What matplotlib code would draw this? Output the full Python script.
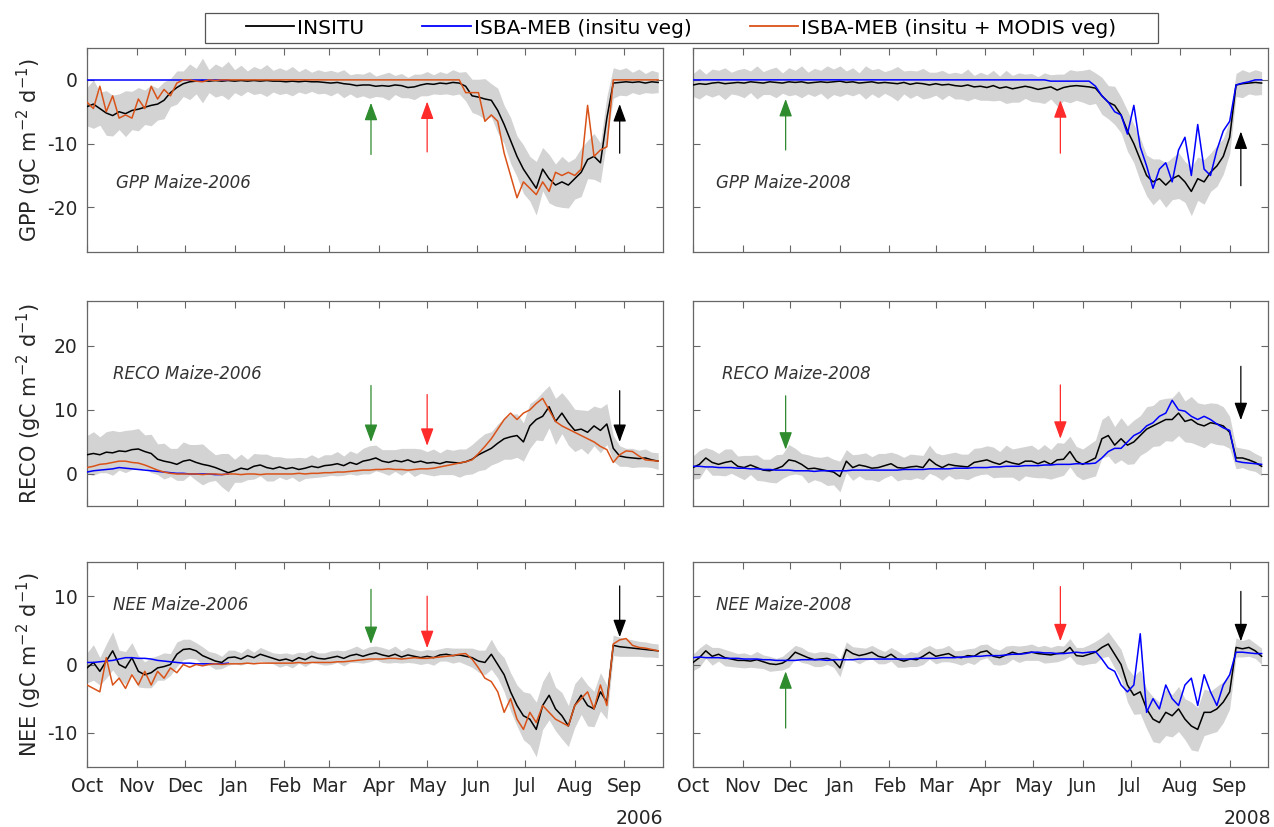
import numpy as np
import matplotlib.pyplot as plt
import matplotlib.dates as mdates
from matplotlib.lines import Line2D
from matplotlib.patches import Rectangle

plt.rcParams['font.family'] = ['DejaVu Sans']
plt.rcParams['axes.unicode_minus'] = False

# one value every 4 days, starting 1 October
days = np.arange(0, 360, 4)
dates06 = np.datetime64('2005-10-01') + days
dates08 = np.datetime64('2007-10-01') + days

# ---------------- 2005-2006 ----------------
#               Oct                                          Nov
gpp06_insitu = [-4.2, -3.8, -4.5, -5.2, -5.6, -5.0, -5.3, -4.8, -4.6, -4.3, -4.0, -3.8, -3.2, -2.0, -1.2, -0.6,
                -0.3, -0.2, -0.1, -0.2, -0.1, -0.2, -0.1,                       # Dec
                -0.2, -0.1, -0.2, -0.1, -0.2, -0.1, -0.2, -0.2,                 # Jan
                -0.3, -0.2, -0.3, -0.2, -0.3, -0.3, -0.4,                       # Feb
                -0.5, -0.4, -0.6, -0.7, -0.9, -0.8, -0.8, -1.0,                 # Mar
                -0.9, -1.0, -0.8, -0.9, -1.2, -1.1, -0.8,                       # Apr
                -0.6, -0.7, -0.5, -0.6, -0.4, -0.5, -1.0, -2.5,                 # May
                -2.7, -3.0, -3.2, -4.8, -7.0, -9.5, -12.0, -14.0,               # Jun
                -15.5, -17.0, -14.0, -15.5, -16.5, -16.0, -16.5,                # Jul
                -15.5, -14.5, -12.5, -12.0, -13.0, -6.0, -0.5, -0.4,            # Aug
                -0.3, -0.4, -0.3, -0.5, -0.3, -0.4]                             # Sep
gpp06_modis = [-3.5, -4.5, -1.0, -5.0, -2.5, -6.0, -5.5, -6.0, -3.0, -4.5, -1.0, -3.0, -1.5, -2.5, -0.5, 0.0,
               0.0, -0.2, -0.3, 0.0, -0.1, 0.0, 0.0,
               0.0, 0.0, 0.0, 0.0, 0.0, 0.0, 0.0, 0.0,
               0.0, 0.0, 0.0, 0.0, 0.0, 0.0, 0.0,
               0.0, 0.0, 0.0, 0.0, 0.0, 0.0, 0.0, 0.0,
               0.0, 0.0, 0.0, 0.0, 0.0, 0.0, 0.0,
               0.0, 0.0, 0.0, 0.0, 0.0, 0.0, -2.0, -2.0,
               -2.0, -6.5, -5.5, -6.5, -11.5, -15.0, -18.5, -16.0,
               -17.0, -18.0, -16.0, -17.5, -14.5, -15.0, -14.5,
               -15.0, -14.0, -4.0, -12.0, -11.0, -10.5, 0.0, 0.0,
               0.0, 0.0, 0.0, 0.0, 0.0, 0.0]
gpp06_veg = [0.0] * 23     # Oct-Dec only, later hidden under the MODIS run
gpp06_spread = [3.0, 3.8, 2.6, 3.5, 3.2, 2.8, 3.6, 3.0, 3.4, 2.7, 3.2, 2.5, 2.9, 2.2, 2.6, 2.0,
                2.8, 2.0, 3.5, 1.8, 2.6, 2.2, 3.0,
                1.8, 2.4, 1.6, 2.2, 1.9, 2.5, 1.7, 2.1,
                1.8, 2.3, 1.6, 2.0, 1.5, 1.9, 1.7,
                2.0, 1.6, 2.2, 1.5, 1.9, 1.7, 2.1, 1.6,
                1.8, 2.2, 1.5, 1.9, 1.6, 2.0, 1.7,
                1.9, 1.5, 1.8, 1.6, 2.0, 1.7, 2.3, 2.6,
                2.8, 3.2, 2.6, 3.5, 3.0, 3.6, 3.2, 3.8,
                3.5, 4.2, 3.4, 3.8, 3.3, 4.0, 3.6,
                3.2, 3.8, 3.0, 3.6, 3.1, 3.4, 2.4, 2.0,
                2.2, 1.6, 2.0, 1.5, 1.8, 1.6]

reco06_insitu = [3.0, 3.2, 3.0, 3.4, 3.3, 3.6, 3.5, 3.8, 3.9, 3.5, 3.2, 2.3, 2.0, 1.8, 1.5, 2.0,
                 2.2, 1.8, 1.5, 1.3, 1.0, 0.6, 0.2,
                 0.5, 0.9, 0.7, 1.2, 1.4, 1.0, 0.8, 1.1,
                 0.8, 1.0, 0.7, 0.9, 1.2, 1.0, 1.3,
                 1.4, 1.6, 1.3, 1.8, 1.5, 2.0, 2.2, 2.5,
                 2.0, 1.8, 2.1, 1.9, 2.2, 1.8, 2.0,
                 1.7, 1.8, 1.6, 1.9, 1.8, 1.7, 1.9, 2.3,
                 3.0, 3.5, 4.0, 4.8, 5.5, 5.8, 6.0, 5.0,
                 7.5, 8.5, 9.0, 10.5, 8.2, 9.5, 8.0,
                 6.8, 7.0, 6.5, 7.5, 6.8, 7.8, 4.0, 2.8,
                 2.6, 2.5, 2.4, 2.5, 2.2, 2.0]
reco06_modis = [1.0, 1.2, 1.5, 1.6, 1.8, 2.0, 2.0, 1.8, 1.7, 1.4, 1.0, 0.6, 0.3, 0.1, 0.0, 0.0,
                0.0, 0.0, -0.1, 0.0, 0.0, -0.1, 0.0,
                0.0, -0.1, 0.0, 0.0, -0.1, 0.0, 0.0, 0.0,
                0.0, 0.0, 0.1, 0.0, 0.1, 0.1, 0.2,
                0.2, 0.3, 0.3, 0.4, 0.5, 0.6, 0.6, 0.7,
                0.7, 0.8, 0.7, 0.7, 0.6, 0.7, 0.8,
                0.8, 0.9, 1.1, 1.3, 1.5, 1.7, 1.9, 2.2,
                3.2, 4.3, 5.5, 7.0, 8.5, 9.5, 8.5, 9.5,
                10.0, 11.0, 11.8, 10.0, 8.2, 7.5, 7.0,
                6.5, 6.0, 5.5, 5.0, 4.3, 3.8, 1.8, 3.0,
                3.6, 3.5, 2.8, 2.2, 2.1, 2.0]
reco06_veg = [0.3, 0.5, 0.6, 0.7, 0.8, 1.0, 0.9, 0.8, 0.7, 0.6, 0.5, 0.4, 0.3, 0.2, 0.1, 0.1,
              0.0, 0.0, 0.0, 0.0, -0.1, -0.1, 0.0]
reco06_spread = [3.0, 3.4, 2.8, 3.2, 3.5, 3.0, 3.3, 3.1, 3.2, 2.6, 3.0, 2.4, 2.8, 2.2, 2.5, 3.0,
                 2.4, 2.8, 3.2, 2.5, 2.0, 2.6, 3.0,
                 1.8, 2.2, 1.6, 2.0, 1.7, 2.1, 1.9, 1.6,
                 1.7, 1.5, 1.9, 1.6, 1.8, 1.5, 1.7,
                 1.6, 1.9, 1.5, 1.8, 1.7, 2.0, 2.2, 2.0,
                 1.8, 2.0, 1.7, 2.1, 1.8, 2.2, 1.9,
                 1.8, 2.1, 1.7, 2.0, 1.9, 2.2, 2.0, 2.3,
                 2.5, 2.8, 2.6, 3.0, 3.2, 3.5, 3.4, 3.0,
                 3.5, 3.2, 3.8, 3.3, 3.6, 3.2, 3.5,
                 3.3, 3.0, 3.4, 3.1, 3.5, 3.2, 2.0, 1.6,
                 1.4, 1.5, 1.3, 1.4, 1.2, 1.3]

nee06_insitu = [-0.5, 0.3, -1.0, 0.5, 2.0, 0.0, -0.5, 1.0, -1.0, -1.5, -1.2, -0.5, -0.3, 0.0, 1.5, 2.2,
                2.3, 2.0, 1.3, 0.9, 0.5, 0.3, 1.0,
                1.1, 0.8, 1.3, 1.0, 1.5, 1.2, 0.9, 0.6,
                0.8, 0.5, 1.0, 0.7, 1.2, 0.9, 0.8,
                1.0, 1.2, 0.9, 1.3, 1.5, 1.2, 1.5, 1.7,
                1.4, 1.2, 1.5, 1.1, 1.4, 1.2, 1.0,
                1.2, 1.0, 1.4, 1.5, 1.3, 1.4, 1.2, 1.0,
                0.5, 0.3, 1.5, 0.0, -1.5, -4.0, -6.0, -7.5,
                -8.0, -9.5, -6.0, -4.5, -6.5, -7.5, -9.0,
                -6.0, -4.5, -6.0, -6.5, -4.0, -5.5, 2.8, 2.6,
                2.5, 2.4, 2.3, 2.2, 2.1, 2.0]
nee06_modis = [-3.0, -3.5, -4.0, 1.0, -3.0, -2.0, -3.5, -1.5, -3.0, -1.0, -3.0, -1.0, -2.0, -0.5, -1.2, 0.0,
               -0.4, 0.0, -0.2, 0.0, 0.1, 0.0, 0.1,
               0.1, 0.1, 0.2, 0.1, 0.2, 0.2, 0.2, 0.2,
               0.2, 0.2, 0.3, 0.2, 0.3, 0.3, 0.3,
               0.3, 0.4, 0.4, 0.5, 0.6, 0.7, 0.8, 0.8,
               0.8, 0.9, 0.9, 0.8, 0.9, 1.0, 0.9,
               0.9, 1.0, 1.1, 1.2, 1.3, 1.5, 1.6, 0.8,
               -0.5, -2.0, -2.5, -4.0, -7.0, -5.0, -8.0, -9.5,
               -7.0, -8.5, -6.0, -7.0, -8.0, -8.5, -9.0,
               -6.0, -5.0, -4.0, -6.5, -3.0, -6.0, 3.0, 3.6,
               3.8, 2.8, 2.5, 2.4, 2.2, 2.0]
nee06_veg = [0.3, 0.3, 0.4, 0.5, 0.6, 0.8, 1.0, 1.0, 0.9, 0.9, 0.8, 0.6, 0.5, 0.4, 0.3, 0.2,
             0.2, 0.1, 0.1, 0.1, 0.1, 0.1, 0.2]
nee06_spread = [2.2, 2.6, 2.0, 2.5, 2.8, 2.1, 2.4, 2.2, 2.3, 1.9, 2.2, 1.8, 2.0, 1.6, 1.8, 1.5,
                1.4, 1.2, 1.3, 1.0, 1.2, 0.9, 1.1,
                1.0, 0.9, 1.1, 0.8, 1.0, 0.9, 0.8, 1.0,
                0.9, 1.0, 0.8, 1.0, 0.9, 0.8, 0.9,
                1.0, 0.9, 1.1, 1.0, 1.2, 1.0, 1.1, 1.0,
                1.1, 1.0, 1.2, 0.9, 1.1, 1.0, 1.0,
                1.0, 1.1, 0.9, 1.0, 1.1, 1.0, 1.2, 1.4,
                1.6, 1.8, 2.2, 2.0, 2.5, 2.8, 3.0, 3.5,
                3.8, 4.0, 3.5, 3.6, 3.2, 3.4, 3.0,
                3.2, 2.8, 3.0, 2.6, 2.8, 2.5, 1.5, 1.4,
                1.3, 1.2, 1.1, 1.1, 1.0, 1.0]

# ---------------- 2007-2008 ----------------
gpp08_insitu = [-0.8, -0.6, -0.7, -0.5, -0.4, -0.6, -0.5, -0.4, -0.5, -0.3, -0.4, -0.5, -0.3, -0.4, -0.5, -0.3,
                -0.4, -0.3, -0.5, -0.4, -0.3, -0.4, -0.3,
                -0.2, -0.4, -0.3, -0.5, -0.4, -0.3, -0.5, -0.4,
                -0.5, -0.6, -0.4, -0.7, -0.5, -0.6, -0.8,
                -0.6, -0.8, -0.7, -0.9, -1.0, -0.8, -1.1, -1.0,
                -1.2, -0.9, -1.3, -1.1, -1.4, -1.2, -1.0,
                -1.2, -1.5, -1.3, -1.1, -1.6, -1.2, -1.0, -0.9,
                -1.0, -1.1, -1.3, -2.5, -3.5, -4.0, -5.5, -8.0,
                -10.0, -12.5, -15.0, -16.0, -15.5, -16.5, -15.5,
                -15.0, -16.0, -17.5, -15.5, -16.0, -14.5, -13.5, -12.0,
                -9.0, -0.8, -0.6, -0.5, -0.4, -0.5]
gpp08_veg = [0.0, 0.0, 0.0, 0.0, 0.0, 0.0, 0.0, 0.0, 0.0, 0.0, 0.0, 0.0, 0.0, 0.0, 0.0, 0.0,
             0.0, 0.0, 0.0, 0.0, 0.0, 0.0, 0.0,
             0.0, 0.0, 0.0, 0.0, 0.0, 0.0, 0.0, 0.0,
             0.0, 0.0, 0.0, 0.0, 0.0, 0.0, 0.0,
             0.0, 0.0, 0.0, 0.0, 0.0, 0.0, 0.0, 0.0,
             0.0, 0.0, 0.0, 0.0, 0.0, 0.0, 0.0,
             0.0, 0.0, 0.0, -0.2, -0.2, -0.2, -0.2, -0.2,
             -0.2, -0.2, -1.0, -2.5, -3.5, -5.0, -5.5, -8.5,
             -4.0, -10.5, -13.5, -17.0, -14.0, -13.0, -16.0,
             -11.0, -9.0, -15.0, -7.0, -14.0, -15.0, -11.0, -8.0,
             -6.5, -0.8, -0.5, -0.3, 0.0, 0.0]
gpp08_spread = [1.8, 2.4, 1.6, 2.2, 1.9, 2.5, 1.7, 2.0, 2.3, 1.7, 2.6, 1.8, 2.0, 2.4, 1.6, 2.2,
                1.9, 2.5, 1.7, 2.2, 1.8, 2.6, 2.0,
                2.4, 1.8, 2.2, 1.6, 2.6, 1.9, 2.3, 1.7,
                2.1, 2.7, 1.8, 2.2, 1.9, 2.4, 2.0,
                1.8, 2.3, 1.7, 2.1, 2.0, 2.5, 1.8, 2.2,
                2.0, 2.4, 1.9, 2.6, 2.1, 2.3, 1.9,
                2.2, 2.0, 2.4, 1.9, 2.5, 2.1, 2.6, 2.3,
                2.5, 2.8, 2.4, 2.9, 2.6, 3.0, 2.8, 3.2,
                3.0, 3.4, 3.2, 3.6, 3.1, 3.5, 3.3,
                3.6, 3.2, 3.8, 3.4, 3.5, 3.0, 3.2, 2.8,
                2.6, 1.8, 2.2, 1.7, 2.0, 1.8]

reco08_insitu = [1.0, 1.5, 2.5, 1.8, 1.5, 1.8, 2.0, 1.2, 1.0, 1.4, 1.0, 0.6, 0.5, 0.8, 1.2, 2.2,
                 2.0, 1.5, 0.8, 0.9, 0.7, 0.5, 0.3,
                 -0.4, 2.0, 1.0, 1.4, 1.2, 0.9, 1.0, 1.3,
                 1.6, 1.0, 0.9, 1.1, 1.2, 1.0, 2.3,
                 1.5, 1.0, 1.5, 1.3, 1.2, 1.1, 1.8, 2.0,
                 2.2, 1.8, 1.5, 2.0, 1.7, 1.5, 2.0,
                 2.0, 1.6, 2.0, 1.5, 2.2, 2.3, 3.5, 2.0,
                 1.5, 2.0, 2.5, 5.5, 6.0, 4.5, 5.5, 4.5,
                 5.0, 6.0, 7.0, 7.5, 8.0, 8.5, 8.5,
                 9.5, 8.2, 8.5, 7.8, 7.5, 8.0, 7.8, 7.5,
                 6.5, 2.5, 2.5, 2.2, 1.8, 1.2]
reco08_veg = [1.2, 1.2, 1.1, 1.1, 1.0, 1.0, 1.0, 0.9, 0.9, 0.8, 0.8, 0.7, 0.7, 0.6, 0.6, 0.6,
              0.5, 0.5, 0.5, 0.4, 0.5, 0.5, 0.5,
              0.5, 0.5, 0.6, 0.6, 0.6, 0.6, 0.6, 0.6,
              0.6, 0.6, 0.7, 0.7, 0.7, 0.7, 0.8,
              0.8, 0.8, 0.8, 0.9, 0.9, 0.9, 1.0, 1.0,
              1.0, 1.1, 1.1, 1.2, 1.2, 1.2, 1.3,
              1.3, 1.3, 1.4, 1.4, 1.5, 1.5, 1.5, 1.6,
              1.6, 1.6, 1.7, 2.5, 3.5, 4.0, 4.0, 5.0,
              6.0, 6.5, 7.5, 8.0, 9.0, 9.5, 11.5,
              10.0, 9.8, 9.0, 8.5, 9.0, 8.5, 7.8, 7.2,
              6.8, 2.0, 1.8, 1.7, 1.6, 1.5]
reco08_spread = [1.8, 2.2, 1.6, 2.0, 1.7, 2.1, 1.9, 1.6, 1.9, 1.5, 2.0, 1.7, 1.8, 2.2, 1.9, 2.4,
                 2.0, 1.7, 2.2, 1.8, 1.9, 2.3, 2.0,
                 2.4, 1.8, 2.0, 1.7, 2.1, 1.8, 2.2, 1.9,
                 1.8, 2.1, 1.7, 2.0, 1.8, 1.9, 2.2,
                 1.8, 2.0, 1.7, 2.1, 1.9, 2.0, 2.2, 2.1,
                 2.2, 2.4, 2.0, 2.5, 2.2, 2.6, 2.3,
                 2.5, 2.2, 2.6, 2.3, 2.7, 2.5, 2.4, 2.3,
                 2.4, 2.6, 2.8, 3.0, 3.2, 2.9, 3.3, 3.0,
                 3.4, 3.1, 3.5, 3.2, 3.6, 3.3, 3.4,
                 3.5, 3.2, 3.6, 3.3, 3.4, 3.1, 3.2, 3.0,
                 2.5, 1.7, 1.5, 1.6, 1.4, 1.5]

nee08_insitu = [0.3, 1.0, 2.0, 1.2, 1.5, 1.0, 0.8, 0.6, 0.6, 0.5, 0.7, 0.4, 0.1, 0.0, 0.2, 0.8,
                1.8, 1.4, 1.0, 0.7, 0.8, 0.9, 0.6,
                -0.5, 2.2, 1.6, 1.3, 1.5, 1.8, 1.2, 1.0,
                1.5, 0.8, 0.5, 0.8, 0.7, 1.2, 1.8,
                1.2, 1.4, 1.6, 1.1, 1.0, 1.3, 1.2, 1.8,
                2.0, 1.2, 1.0, 1.4, 1.8, 1.5, 1.7,
                1.8, 1.6, 1.5, 1.4, 1.6, 1.7, 2.5, 1.3,
                1.2, 1.5, 1.8, 2.5, 3.0, 1.5, 0.0, -3.0,
                -4.5, -4.0, -6.5, -8.0, -8.5, -7.0, -7.5,
                -6.5, -8.0, -9.0, -9.5, -7.0, -7.0, -6.5, -5.5,
                -4.0, 2.5, 2.3, 2.5, 2.0, 1.2]
nee08_veg = [1.0, 1.1, 1.0, 1.0, 1.0, 0.9, 0.9, 0.9, 0.8, 0.8, 0.8, 0.7, 0.7, 0.6, 0.6, 0.6,
             0.6, 0.7, 0.7, 0.7, 0.7, 0.6, 0.7,
             0.7, 0.7, 0.7, 0.8, 0.8, 0.8, 0.8, 0.8,
             0.8, 0.8, 0.8, 0.8, 0.9, 0.9, 0.9,
             0.9, 1.0, 1.0, 1.0, 1.1, 1.1, 1.2, 1.2,
             1.3, 1.3, 1.3, 1.4, 1.5, 1.5, 1.6,
             1.8, 1.8, 1.7, 1.7, 1.6, 1.6, 1.7, 1.8,
             1.7, 1.8, 1.9, 0.8, -0.5, -1.0, -3.0, -4.0,
             -3.0, 4.5, -7.0, -5.0, -6.5, -3.0, -5.0,
             -6.0, -3.0, -2.0, -6.0, -1.5, -4.0, -6.0, -3.0,
             -1.5, 1.8, 1.8, 1.7, 1.6, 1.6]
nee08_spread = [1.2, 1.4, 1.1, 1.3, 1.0, 1.2, 1.1, 1.0, 1.1, 0.9, 1.2, 1.0, 1.1, 0.9, 1.0, 1.2,
                1.0, 1.1, 0.9, 1.0, 1.1, 0.9, 1.0,
                1.3, 1.1, 1.0, 1.2, 0.9, 1.0, 1.1, 0.9,
                1.0, 1.2, 0.9, 1.1, 1.0, 1.2, 1.0,
                1.1, 1.0, 1.2, 0.9, 1.1, 1.0, 1.2, 1.1,
                1.0, 1.2, 1.1, 1.3, 1.0, 1.2, 1.1,
                1.2, 1.0, 1.3, 1.1, 1.2, 1.0, 1.3, 1.2,
                1.3, 1.4, 1.6, 1.5, 1.8, 2.0, 2.2, 2.5,
                2.8, 3.2, 2.9, 3.3, 3.0, 3.4, 3.1,
                3.3, 3.0, 3.5, 3.2, 3.4, 3.1, 3.3, 3.0,
                2.5, 1.4, 1.2, 1.3, 1.1, 1.2]

# arrows: date, tail value, tip value (green, red, black)
arrow_dates06 = ['2006-03-27', '2006-05-01', '2006-08-29']
arrow_dates08 = ['2007-11-28', '2008-05-18', '2008-09-08']
arrow_colors = ['#2e8b2e', '#ff2a2a', 'black']
gpp06_arrows = [(-11.7, -3.6), (-11.3, -3.4), (-11.5, -3.8)]
reco06_arrows = [(13.8, 5.0), (12.4, 4.4), (13.0, 5.0)]
nee06_arrows = [(11.0, 3.0), (10.0, 2.4), (11.5, 4.0)]
gpp08_arrows = [(-11.0, -3.0), (-11.5, -3.2), (-16.6, -8.1)]
reco08_arrows = [(12.2, 3.8), (13.9, 5.5), (16.8, 8.4)]
nee08_arrows = [(-9.3, -1.0), (11.4, 3.4), (10.7, 3.4)]

BLACK = 'black'
BLUE = '#0000ff'
ORANGE = '#d95319'
GRAY = '#d3d3d3'
AXCOL = '#666666'

fig = plt.figure(figsize=(12.74, 8.27), dpi=100)
W, H = 1274, 827


def make_ax(x0, x1, y0, y1):
    return fig.add_axes([x0 / W, 1 - y1 / H, (x1 - x0) / W, (y1 - y0) / H])


def panel(ax, dates, insitu, spread, veg, modis, arrows, arrow_dates, label, lab_xy,
          ylim, yticks, ylabel, start, end, show_x, show_y):
    ins = np.array(insitu)
    sp = np.array(spread)
    ax.fill_between(dates, ins - sp, ins + sp, color=GRAY, lw=0, zorder=1)
    ax.plot(dates, ins, color=BLACK, lw=1.1, zorder=3)
    ax.plot(dates[:len(veg)], veg, color=BLUE, lw=1.1, zorder=4)
    if modis is not None:
        ax.plot(dates, modis, color=ORANGE, lw=1.1, zorder=5)
    for d, (tail, tip), c in zip(arrow_dates, arrows, arrow_colors):
        d = np.datetime64(d)
        ax.annotate('', xy=(d, tip), xytext=(d, tail), zorder=6,
                    arrowprops=dict(arrowstyle='-|>,head_length=0.6,head_width=0.22',
                                    color=c, lw=0.9, mutation_scale=18,
                                    shrinkA=0, shrinkB=0))
    ax.text(lab_xy[0], lab_xy[1], label, transform=ax.transAxes, style='italic',
            fontsize=12, color='#333333', va='center')
    ax.set_xlim(np.datetime64(start), np.datetime64(end))
    ax.set_ylim(ylim)
    ax.set_yticks(yticks)
    ax.xaxis.set_major_locator(mdates.MonthLocator())
    ax.xaxis.set_major_formatter(mdates.DateFormatter('%b'))
    ax.tick_params(direction='in', length=5, width=0.8, color=AXCOL, top=True, right=True,
                   labelsize=13.5, labelcolor='#262626', pad=7)
    if not show_x:
        ax.tick_params(labelbottom=False)
    if not show_y:
        ax.tick_params(labelleft=False)
    else:
        ax.set_ylabel(ylabel, fontsize=15, color='#262626')
        ax.yaxis.set_label_coords(-0.075, 0.5)
    for s in ax.spines.values():
        s.set_color(AXCOL)
        s.set_linewidth(0.9)


rows = [(48, 252), (301, 506), (562, 767)]
left_x = (87, 663)
right_x = (693, 1268)

s06, e06 = '2005-10-01', '2006-09-25'
s08, e08 = '2007-10-01', '2008-09-25'

ax = make_ax(left_x[0], left_x[1], *rows[0])
panel(ax, dates06, gpp06_insitu, gpp06_spread, gpp06_veg, gpp06_modis, gpp06_arrows, arrow_dates06,
      'GPP Maize-2006', (0.05, 0.34), (-27, 5), [-20, -10, 0],
      'GPP (gC m$^{-2}$ d$^{-1}$)', s06, e06, False, True)
ax = make_ax(right_x[0], right_x[1], *rows[0])
panel(ax, dates08, gpp08_insitu, gpp08_spread, gpp08_veg, None, gpp08_arrows, arrow_dates08,
      'GPP Maize-2008', (0.04, 0.34), (-27, 5), [-20, -10, 0],
      '', s08, e08, False, False)

ax = make_ax(left_x[0], left_x[1], *rows[1])
panel(ax, dates06, reco06_insitu, reco06_spread, reco06_veg, reco06_modis, reco06_arrows, arrow_dates06,
      'RECO Maize-2006', (0.045, 0.645), (-5, 27), [0, 10, 20],
      'RECO (gC m$^{-2}$ d$^{-1}$)', s06, e06, False, True)
ax = make_ax(right_x[0], right_x[1], *rows[1])
panel(ax, dates08, reco08_insitu, reco08_spread, reco08_veg, None, reco08_arrows, arrow_dates08,
      'RECO Maize-2008', (0.05, 0.645), (-5, 27), [0, 10, 20],
      '', s08, e08, False, False)

ax = make_ax(left_x[0], left_x[1], *rows[2])
panel(ax, dates06, nee06_insitu, nee06_spread, nee06_veg, nee06_modis, nee06_arrows, arrow_dates06,
      'NEE Maize-2006', (0.045, 0.79), (-15, 15), [-10, 0, 10],
      'NEE (gC m$^{-2}$ d$^{-1}$)', s06, e06, True, True)
ax = make_ax(right_x[0], right_x[1], *rows[2])
panel(ax, dates08, nee08_insitu, nee08_spread, nee08_veg, None, nee08_arrows, arrow_dates08,
      'NEE Maize-2008', (0.04, 0.79), (-15, 15), [-10, 0, 10],
      '', s08, e08, True, False)

fig.text(663 / W, 1 - 819 / H, '2006', ha='right', va='center', fontsize=13.5, color='#262626')
fig.text(1271 / W, 1 - 819 / H, '2008', ha='right', va='center', fontsize=13.5, color='#262626')

# legend: frame drawn separately so its box matches the original
handles = [Line2D([], [], color=BLACK, lw=1.3),
           Line2D([], [], color=BLUE, lw=1.3),
           Line2D([], [], color=ORANGE, lw=1.3)]
labels = ['INSITU', 'ISBA-MEB (insitu veg)', 'ISBA-MEB (insitu + MODIS veg)']
fig.legend(handles, labels, loc='center', bbox_to_anchor=(681 / W, 1 - 28 / H), ncol=3,
           fontsize=14.5, frameon=False, handlelength=2.4,
           handletextpad=0.15, columnspacing=2.9, borderpad=0.2)
fig.patches.append(Rectangle((205 / W, 1 - 43 / H), 953 / W, 30 / H, transform=fig.transFigure,
                             fill=False, edgecolor='#555555', lw=0.9))

fig.savefig('out.png', dpi=100)
